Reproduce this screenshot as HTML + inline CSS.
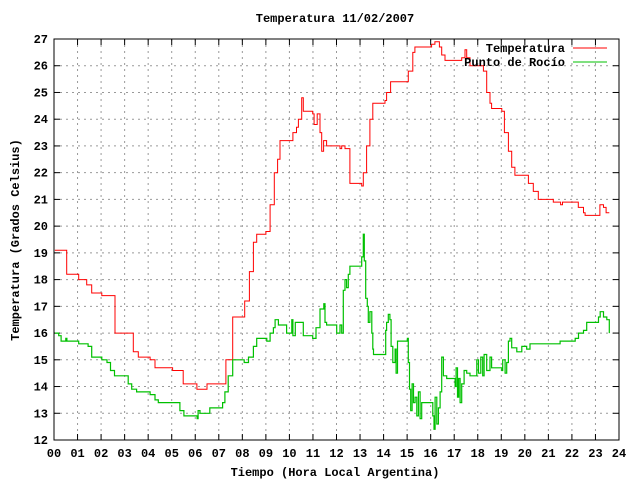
<!DOCTYPE html>
<html><head><meta charset="utf-8"><style>
body{margin:0;background:#fff}
svg text{font-family:"Liberation Mono",monospace;font-size:12px;font-weight:bold;fill:#000}
</style></head><body>
<svg id="chart" width="640" height="480" viewBox="0 0 640 480">
<rect x="0" y="0" width="640" height="480" fill="#fff"/>
<g id="grid"></g>
<g id="ticks"></g>
<g id="series"></g>
<rect x="54" y="39" width="565" height="401" fill="none" stroke="#000" stroke-width="1"/>
<text x="335" y="22" text-anchor="middle">Temperatura 11/02/2007</text>
<text x="335" y="476" text-anchor="middle">Tiempo (Hora Local Argentina)</text>
<text x="19" y="240" text-anchor="middle" transform="rotate(-90 19 240)">Temperatura (Grados Celsius)</text>
<g>
<text x="565" y="52" text-anchor="end">Temperatura</text>
<line x1="573" y1="48" x2="607" y2="48" stroke="#f00"/>
<text x="565" y="66" text-anchor="end">Punto de Rocío</text>
<line x1="573" y1="62" x2="607" y2="62" stroke="#00c000"/>
</g>
</svg>
<script>
const xTicks=["00","01","02","03","04","05","06","07","08","09","10","11","12","13","14","15","16","17","18","19","20","21","22","23","24"];
const yTicks=[12,13,14,15,16,17,18,19,20,21,22,23,24,25,26,27];
const tempHours=[0.04,0.54,1.03,1.05,1.39,1.6,2.03,2.59,3.02,3.37,3.58,4.08,4.29,5.04,5.49,6.06,6.07,6.48,6.5,7.05,7.3,7.59,8.02,8.1,8.3,8.47,8.61,9.0,9.18,9.36,9.5,9.6,10.02,10.15,10.3,10.38,10.52,10.59,10.99,11.05,11.18,11.3,11.37,11.45,11.58,12.15,12.22,12.36,12.57,13.07,13.14,13.28,13.42,13.54,14.06,14.13,14.3,15.01,15.05,15.24,15.33,16.04,16.18,16.37,16.47,16.61,17.17,17.32,17.46,17.53,17.67,18.17,18.24,18.38,18.52,18.59,19.02,19.13,19.3,19.44,19.58,20.0,20.15,20.36,20.57,21.07,21.21,21.52,21.6,22.06,22.27,22.49,22.56,23.02,23.19,23.34,23.45,23.59];
const tempValues=[19.1,18.2,18.2,18.0,17.8,17.5,17.4,16.0,16.0,15.3,15.1,15.0,14.7,14.6,14.1,14.1,13.9,13.9,14.1,14.1,15.0,16.6,16.6,17.2,18.3,19.4,19.7,19.8,20.8,22.0,22.5,23.2,23.2,23.5,23.7,24.0,24.8,24.3,24.2,23.8,24.2,23.5,22.8,23.2,23.0,22.9,23.0,22.9,21.6,21.5,22.0,23.0,24.0,24.6,24.7,25.0,25.4,25.4,25.8,26.5,26.7,26.8,26.9,26.7,26.4,26.2,26.2,26.3,26.6,26.3,26.0,26.0,25.8,25.0,24.6,24.4,24.3,23.5,22.8,22.2,21.9,21.9,21.6,21.3,21.0,21.0,20.9,20.8,20.9,20.9,20.7,20.5,20.4,20.4,20.8,20.7,20.5,20.5];
const dewHours=[0.04,0.2,0.3,0.5,0.55,1.03,1.05,1.39,1.45,1.6,2.03,2.25,2.4,2.57,3.02,3.15,3.3,3.51,4.08,4.29,4.43,5.14,5.35,5.52,6.03,6.08,6.12,6.2,6.55,6.62,7.05,7.16,7.26,7.4,7.59,8.02,8.08,8.26,8.47,8.61,9.04,9.18,9.32,9.39,9.53,9.88,10.1,10.15,10.25,10.45,10.59,10.99,11.13,11.3,11.46,11.51,11.58,12.01,12.08,12.15,12.22,12.29,12.36,12.43,12.5,12.57,13.0,13.07,13.14,13.18,13.24,13.31,13.35,13.42,13.5,13.54,13.57,14.06,14.09,14.13,14.2,14.27,14.32,14.39,14.49,14.53,14.59,14.63,15.01,15.05,15.1,15.15,15.21,15.27,15.34,15.41,15.48,15.55,15.62,16.05,16.09,16.14,16.19,16.26,16.33,16.4,16.47,16.54,16.61,16.68,17.04,17.08,17.14,17.19,17.25,17.32,17.42,17.53,17.67,17.96,18.03,18.13,18.21,18.27,18.38,18.52,18.59,18.81,19.02,19.06,19.16,19.23,19.3,19.37,19.44,19.66,19.87,20.08,20.22,20.51,21.07,21.21,21.5,22.06,22.14,22.28,22.49,22.63,23.03,23.13,23.2,23.34,23.48,23.59];
const dewValues=[16.0,15.9,15.7,15.8,15.7,15.7,15.6,15.6,15.5,15.1,15.0,14.9,14.6,14.4,14.4,14.1,13.9,13.8,13.7,13.5,13.4,13.4,13.1,12.9,12.9,12.8,13.1,13.0,13.0,13.2,13.2,13.4,13.8,14.4,15.0,15.0,14.9,15.1,15.5,15.8,15.7,16.0,16.2,16.5,16.3,16.0,16.5,15.9,16.4,16.4,15.9,15.8,16.2,16.9,17.1,16.4,16.3,16.0,16.0,16.3,16.0,17.6,18.0,17.7,18.2,18.5,18.5,18.85,19.7,18.7,17.3,17.0,16.4,16.8,16.0,15.4,15.2,15.2,16.1,16.4,16.7,16.5,15.5,14.9,15.4,14.5,15.7,15.7,15.8,14.9,13.9,13.1,14.1,13.4,13.6,12.9,13.8,12.8,13.4,13.4,12.9,12.4,13.6,12.6,13.2,13.8,15.1,14.4,14.4,14.3,14.0,14.7,13.6,14.3,13.4,14.1,14.6,14.5,14.4,15.0,14.5,15.1,14.4,15.2,14.6,15.1,14.7,14.7,14.6,15.0,14.5,14.9,15.7,15.8,15.45,15.3,15.5,15.4,15.6,15.6,15.6,15.6,15.7,15.7,15.8,16.0,16.1,16.4,16.4,16.6,16.8,16.6,16.5,16.0];

const NS="http://www.w3.org/2000/svg";
const L=54,R=619,T=39,B=440,xMin=0,xMax=24,yMin=12,yMax=27;
function xs(h){return L+(h-xMin)/(xMax-xMin)*(R-L);}
function ys(v){return B-(v-yMin)/(yMax-yMin)*(B-T);}
function mk(tag,attrs,parent){const e=document.createElementNS(NS,tag);for(const k in attrs)e.setAttribute(k,attrs[k]);parent.appendChild(e);return e;}
const grid=document.getElementById('grid'),ticks=document.getElementById('ticks'),series=document.getElementById('series');
xTicks.forEach((lab,i)=>{
  const x=xs(i);
  if(i>0&&i<xTicks.length-1){
    const g=mk('line',{x1:x,y1:T,x2:x,y2:B,stroke:'#999','stroke-dasharray':'2,4'},grid);
    
    
  }
  const t1=mk('line',{x1:x,y1:B,x2:x,y2:B-6,stroke:'#000'},ticks);
  
  
  const t2=mk('line',{x1:x,y1:T,x2:x,y2:T+6,stroke:'#000'},ticks);
  
  
  const tx=mk('text',{x:x,y:B+17,'text-anchor':'middle'},ticks);
  tx.textContent=lab;
  
  
});
yTicks.forEach(v=>{
  const y=ys(v);
  if(v>yMin&&v<yMax){
    const g=mk('line',{x1:L,y1:y,x2:R,y2:y,stroke:'#999','stroke-dasharray':'2,4'},grid);
    
    
  }
  const t1=mk('line',{x1:L,y1:y,x2:L+6,y2:y,stroke:'#000'},ticks);
  
  
  const t2=mk('line',{x1:R,y1:y,x2:R-6,y2:y,stroke:'#000'},ticks);
  
  
  const tx=mk('text',{x:L-6,y:y+4,'text-anchor':'end'},ticks);
  tx.textContent=String(v);
  
  
});
function stepPts(hs,vs){
  const out=[];
  hs.forEach((h,i)=>{
    const x=xs(h).toFixed(1),y=ys(vs[i]).toFixed(1);
    if(i>0)out.push(x+','+ys(vs[i-1]).toFixed(1));
    out.push(x+','+y);
  });
  return out.join(' ');
}
const pT=mk('polyline',{points:stepPts(tempHours,tempValues),fill:'none',stroke:'#f00','stroke-width':1},series);


const pD=mk('polyline',{points:stepPts(dewHours,dewValues),fill:'none',stroke:'#00c000','stroke-width':1.2},series);


</script>
</body></html>
